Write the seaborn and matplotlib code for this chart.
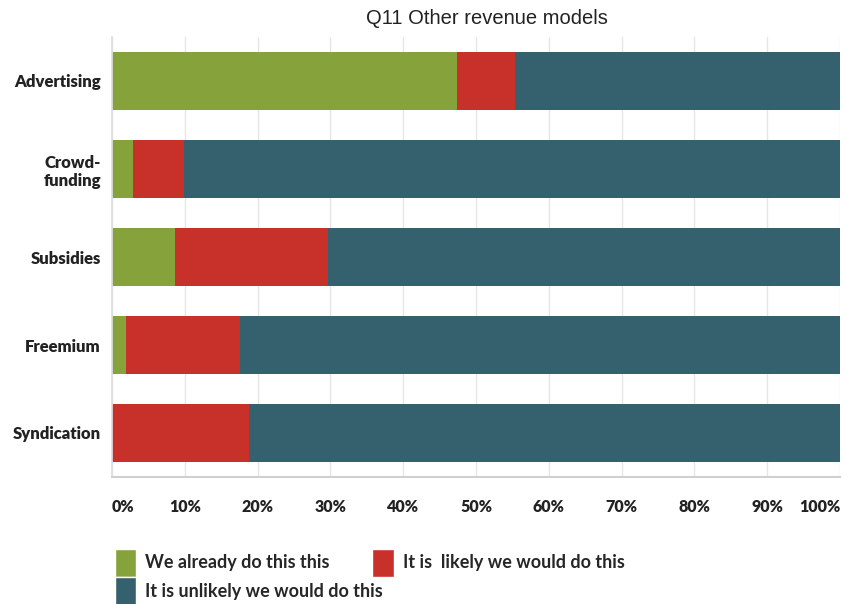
import matplotlib
matplotlib.use("Agg")
import matplotlib.pyplot as plt
import seaborn as sns
import pandas as pd
import numpy as np
from matplotlib.patches import Patch

categories = ["Advertising", "Crowd-\nfunding", "Subsidies", "Freemium", "Syndication"]
already = [47.4, 2.9, 8.7, 1.9, 0.0]
likely = [8.0, 7.0, 21.0, 15.7, 18.8]
unlikely = [44.6, 90.1, 70.3, 82.4, 81.2]
series_names = ["We already do this this", "It is  likely we would do this", "It is unlikely we would do this"]
colors = ["#86A33B", "#C7312A", "#35606E"]
tick_vals = [0, 10, 20, 30, 40, 50, 60, 70, 80, 90, 100]
tick_labels = ["0%", "10%", "20%", "30%", "40%", "50%", "60%", "70%", "80%", "90%", "100%"]

sns.set_theme(style="white")
plt.rcParams["font.family"] = ["Lato", "DejaVu Sans"]

df = pd.DataFrame({"cat": categories, "a": already, "l": likely, "u": unlikely})
df["c1"] = df["a"]
df["c2"] = df["a"] + df["l"]
df["c3"] = df["a"] + df["l"] + df["u"]

fig = plt.figure(figsize=(8.48, 6.04), dpi=100)
ax = fig.add_axes([112/848, 1 - 477/604, (840-112)/848, (477-37)/604])

for col, c in zip(["c3", "c2", "c1"], [colors[2], colors[1], colors[0]]):
    sns.barplot(data=df, x=col, y="cat", color=c, orient="h", width=0.66,
                ax=ax, saturation=1, edgecolor="none", linewidth=0)

ax.set_xlim(0, 100)
ax.set_ylim(4.5, -0.5)
ax.set_xlabel("")
ax.set_ylabel("")
ax.set_xticks(tick_vals)
ax.set_xticklabels(tick_labels, fontsize=11.5, fontweight="heavy", color="#222222")
xl = ax.get_xticklabels()
xl[0].set_ha("left")
xl[-1].set_ha("right")
ax.tick_params(axis="x", length=0, pad=16)
ax.tick_params(axis="y", length=0, pad=8)
for t in ax.get_yticklabels():
    t.set_fontsize(12)
    t.set_fontweight("heavy")
    t.set_color("#222222")
    t.set_multialignment("right")
ax.grid(axis="x", color="#e6e6e6", linewidth=1)
ax.set_axisbelow(True)
for s in ["top", "right"]:
    ax.spines[s].set_visible(False)
ax.spines["left"].set_color("#dddddd")
ax.spines["bottom"].set_color("#d0d0d0")
ax.spines["bottom"].set_linewidth(1.5)

fig.text(487/848, 1 - 18/604, "Q11 Other revenue models", ha="center", va="center",
         fontsize=14.5, family=["Liberation Sans", "DejaVu Sans"], color="#222222")

handles = [Patch(facecolor=colors[0]), Patch(facecolor=colors[2]), Patch(facecolor=colors[1])]
labels = [series_names[0], series_names[2], series_names[1]]
fig.legend(handles, labels, ncol=2, loc="upper left", bbox_to_anchor=(102/848, 1 - 536/604),
           frameon=False, handlelength=1.2, handleheight=2.0,
           columnspacing=-0.6, labelspacing=0.05, handletextpad=0.5, borderpad=0.2,
           prop={"family": ["Lato", "DejaVu Sans"], "weight": "bold", "size": 13})

fig.savefig("out.png", dpi=100)
